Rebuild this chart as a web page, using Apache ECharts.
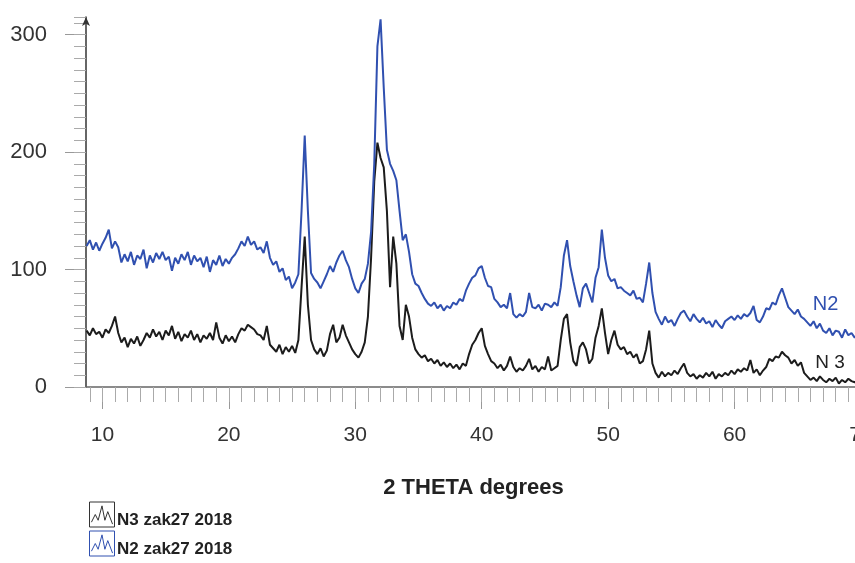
<!DOCTYPE html>
<html>
<head>
<meta charset="utf-8">
<script src="https://cdn.jsdelivr.net/npm/echarts@6/dist/echarts.min.js"></script>
<style>
html,body{margin:0;padding:0;background:#fff;}
#chart{width:855px;height:563px;}
</style>
</head>
<body>
<div id="chart"></div>
<script>
// 2-theta scan: first point and step (degrees)
const thetaStart = 8.75;
const thetaStep = 0.25;

// N2 zak27 2018 (blue), one value per 0.25 deg from 8.75
const n2Values = [
  120,
  125,117,123,116, // 9
  122,127,134,118, // 10
  124,119,106,113, // 11
  107,115,104,112, // 12
  109,117,101,112, // 13
  106,114,109,115, // 14
  108,111,99,110,  // 15
  105,113,108,115, // 16
  104,112,107,110, // 17
  102,111,98,108,  // 18
  104,112,103,109, // 19
  105,110,113,118, // 20
  124,120,128,121, // 21
  124,117,119,114, // 22
  124,110,104,107, // 23
  98,101,91,94,    // 24
  84,89,96,150,    // 25
  214,150,97,92,   // 26
  89,84,90,96,     // 27
  103,98,106,112,  // 28
  116,108,102,92,  // 29
  84,80,88,92,     // 30
  105,132,190,290, // 31
  313,255,202,190, // 32
  184,176,150,125, // 33
  130,115,96,88,   // 34
  86,80,75,71,     // 35
  69,72,67,70,     // 36
  65,69,67,72,     // 37
  70,75,73,82,     // 38
  88,93,95,101,    // 39
  103,93,86,85,    // 40
  75,72,68,70,     // 41
  67,80,62,59,     // 42
  62,60,64,80,     // 43
  68,67,70,65,     // 44
  71,70,68,72,     // 45
  69,85,112,125,   // 46
  103,90,78,68,    // 47
  84,88,80,72,     // 48
  93,102,134,110,  // 49
  95,90,92,84,     // 50
  85,82,80,78,     // 51
  82,75,76,72,     // 52
  88,106,80,64,    // 53
  58,53,60,55,     // 54
  57,52,58,63,     // 55
  65,60,56,62,     // 56
  58,55,59,54,     // 57
  56,51,57,53,     // 58
  50,56,58,60,     // 59
  57,61,58,62,     // 60
  60,63,69,57,     // 61
  55,60,67,66,     // 62
  72,70,78,84,     // 63
  76,68,65,62,     // 64
  66,60,58,55,     // 65
  52,56,50,54,     // 66
  48,46,50,44,     // 67
  48,47,42,49,     // 68
  44,46,42,45      // 69
];

// N3 zak27 2018 (black), one value per 0.25 deg from 8.75
const n3Values = [
  48,
  44,50,45,47,     // 9
  42,49,46,52,     // 10
  60,46,38,42,     // 11
  34,41,37,43,     // 12
  35,40,46,42,     // 13
  49,43,47,40,     // 14
  48,44,52,41,     // 15
  47,39,45,42,     // 16
  48,40,45,38,     // 17
  44,41,46,40,     // 18
  55,42,37,44,     // 19
  39,43,38,45,     // 20
  50,48,53,51,     // 21
  49,45,44,40,     // 22
  52,36,33,30,     // 23
  36,28,34,30,     // 24
  35,29,40,85,     // 25
  128,70,40,32,    // 26
  28,33,26,31,     // 27
  45,53,38,42,     // 28
  53,44,38,32,     // 29
  28,25,30,38,     // 30
  60,110,175,208,  // 31
  195,187,150,85,  // 32
  128,105,52,40,   // 33
  70,60,42,32,     // 34
  28,25,27,22,     // 35
  24,20,23,18,     // 36
  21,17,20,16,     // 37
  19,15,20,18,     // 38
  28,36,40,46,     // 39
  50,35,28,22,     // 40
  20,16,19,14,     // 41
  18,26,17,13,     // 42
  16,14,18,24,     // 43
  15,18,13,17,     // 44
  15,26,14,16,     // 45
  18,40,58,62,     // 46
  38,22,18,34,     // 47
  38,32,20,24,     // 48
  42,52,67,46,     // 49
  28,40,48,36,     // 50
  32,34,28,30,     // 51
  25,28,20,22,     // 52
  32,48,20,12,     // 53
  8,13,9,12,       // 54
  10,14,11,16,     // 55
  20,12,9,11,      // 56
  7,10,8,12,       // 57
  9,13,7,11,       // 58
  9,12,10,14,      // 59
  11,15,13,16,     // 60
  14,23,12,15,     // 61
  10,14,17,24,     // 62
  22,26,25,30,     // 63
  27,25,20,23,     // 64
  18,21,12,9,      // 65
  6,8,5,9,         // 66
  6,4,7,5,         // 67
  8,3,6,4,         // 68
  7,5,4,6          // 69
];

const seriesNames = ['N3 zak27 2018', 'N2 zak27 2018'];
const curveLabels = ['N 3', 'N2'];
const curveLabelPos = [[67.55, 20.4], [67.2, 70.2]];
const xTickLabels = [10, 20, 30, 40, 50, 60, 70];
const xMinorTicks = [9,10,11,12,13,14,15,16,17,18,19,20,21,22,23,24,25,26,27,28,29,30,31,32,33,34,35,36,37,38,39,40,41,42,43,44,45,46,47,48,49,50,51,52,53,54,55,56,57,58,59,60,61,62,63,64,65,66,67,68,69,70];
const yTickLabels = [0, 100, 200, 300];

const colN3 = '#1c1c1c';
const colN2 = '#3050b0';
const font = '"Liberation Sans", Arial, Helvetica, sans-serif';

function toPairs(vals) {
  return vals.map((v, i) => [thetaStart + i * thetaStep, v]);
}

const iconPath = 'path://M0,0H26V26H0Z M2,21L6,13L9,19L13,4L16,19L19,10L24,23';

const chart = echarts.init(document.getElementById('chart'), null, {renderer: 'canvas'});
chart.setOption({
  animation: false,
  backgroundColor: '#ffffff',
  textStyle: {fontFamily: font},
  grid: {left: 86, top: 17, width: 775, height: 370, containLabel: false, outerBoundsMode: 'none'},
  legend: {
    orient: 'vertical', left: 89, top: 500, height: 120, padding: 0,
    itemWidth: 26, itemHeight: 25, itemGap: 0,
    selectedMode: false,
    formatter: function (name) { return '\n' + name; },
    textStyle: {fontFamily: font, fontWeight: 'bold', fontSize: 17, lineHeight: 12, color: '#222', padding: [0, 0, 0, -3]},
    data: [
      {name: seriesNames[0], icon: iconPath, itemStyle: {color: 'rgba(0,0,0,0)', borderColor: '#333', borderWidth: 1}},
      {name: seriesNames[1], icon: iconPath, itemStyle: {color: 'rgba(0,0,0,0)', borderColor: colN2, borderWidth: 1}}
    ]
  },
  xAxis: [
    {
      type: 'value', min: 8.7, max: 70, position: 'bottom',
      axisLine: {show: true, onZero: false, lineStyle: {color: '#666', width: 1.5}},
      axisTick: {show: true, customValues: xTickLabels, length: 22, lineStyle: {color: '#999'}},
      axisLabel: {customValues: xTickLabels, margin: 38, fontSize: 21, color: '#333', fontFamily: font},
      splitLine: {show: false},
      name: '2 THETA degrees', nameLocation: 'middle', nameGap: 90,
      nameTextStyle: {fontFamily: font, fontWeight: 'bold', fontSize: 22, color: '#222'}
    },
    {
      type: 'value', min: 8.7, max: 70, position: 'bottom',
      axisLine: {show: false, onZero: false},
      axisTick: {show: true, customValues: xMinorTicks, length: 15, lineStyle: {color: '#aaa'}},
      axisLabel: {show: false},
      splitLine: {show: false}
    }
  ],
  yAxis: [
    {
      type: 'value', min: 0, max: 315, position: 'left',
      axisLine: {show: true, symbol: ['none', 'arrow'], symbolSize: [6, 9], lineStyle: {color: '#333', width: 1.5}},
      axisTick: {show: true, customValues: yTickLabels, length: 21, lineStyle: {color: '#999'}},
      axisLabel: {customValues: yTickLabels, margin: 39, fontSize: 22, color: '#333', fontFamily: font},
      splitLine: {show: false}
    },
    {
      type: 'value', min: 0, max: 315, interval: 10, position: 'left',
      axisLine: {show: false},
      axisTick: {show: true, length: 12, lineStyle: {color: '#aaa'}},
      axisLabel: {show: false},
      splitLine: {show: false}
    }
  ],
  series: [
    {
      name: seriesNames[0], type: 'line', xAxisIndex: 0, yAxisIndex: 0,
      data: toPairs(n3Values), showSymbol: false, symbol: 'none',
      lineStyle: {color: colN3, width: 2}, itemStyle: {color: colN3},
      markPoint: {
        silent: true, symbol: 'circle', symbolSize: 0,
        label: {show: true, position: 'inside', formatter: curveLabels[0], color: '#222', fontSize: 19, fontFamily: font},
        data: [{coord: curveLabelPos[0]}]
      }
    },
    {
      name: seriesNames[1], type: 'line', xAxisIndex: 0, yAxisIndex: 0,
      data: toPairs(n2Values), showSymbol: false, symbol: 'none',
      lineStyle: {color: colN2, width: 2}, itemStyle: {color: colN2},
      markPoint: {
        silent: true, symbol: 'circle', symbolSize: 0,
        label: {show: true, position: 'inside', formatter: curveLabels[1], color: colN2, fontSize: 20, fontFamily: font},
        data: [{coord: curveLabelPos[1]}]
      }
    }
  ]
});
</script>
</body>
</html>
